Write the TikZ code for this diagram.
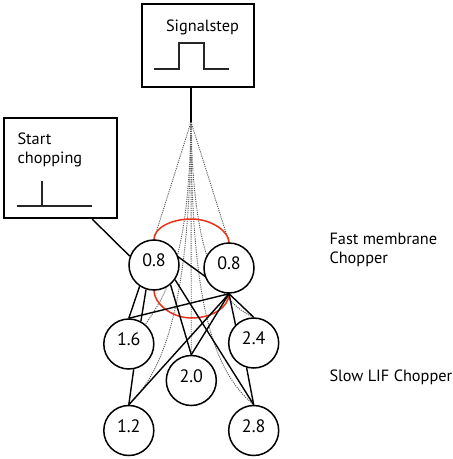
\documentclass[tikz,border=0pt]{standalone}
\usepackage{fontspec}
\setmainfont{PT Sans}
\usetikzlibrary{arrows.meta,calc}
\definecolor{chopred}{RGB}{235,50,25}
\definecolor{dotgray}{RGB}{85,85,85}
\pgfdeclarelayer{paper}
\pgfdeclarelayer{background}
\pgfsetlayers{paper,background,main}
\begin{document}
\begin{tikzpicture}[x=1pt,y=-1pt,
  neuron/.style={circle,draw,line width=1.5pt,fill=white,minimum size=50pt,inner sep=0pt,
    font=\fontsize{18}{20}\selectfont,text height=12.5pt,text depth=9pt},
  box/.style={draw,line width=1.7pt,rectangle,inner sep=0pt,fill=white},
  wire/.style={line width=1.4pt},
  dotline/.style={dotgray,line width=0.9pt,dash pattern=on 1.1pt off 1.1pt},
  lbl/.style={font=\fontsize{16.3}{19}\selectfont,inner sep=0pt},
  pulse/.style={line width=1.7pt,color=black!85}]

\begin{pgfonlayer}{paper}
\useasboundingbox[fill=white] (0,0) rectangle (453,459);
\end{pgfonlayer}

% boxes
\node[box,minimum width=112pt,minimum height=83pt] (sig) at (198,45.5) {};
\node[lbl,anchor=base] (sigtxt) at (202.5,31.7) {Signalstep};
\draw[pulse] (154,68.7) -- (179,68.7) -- (179,43.3) -- (204.3,43.3) -- (204.3,68.7) -- (228.7,68.7);
\coordinate (src) at (191,122);

\node[box,minimum width=112.4pt,minimum height=100pt] (start) at (60.5,168.3) {};
\node[lbl,anchor=base west] (st1) at (17.3,144.3) {Start};
\node[lbl,anchor=base west] (st2) at (17.3,163.3) {chopping};
\draw[pulse] (17.3,206) -- (91.7,206);
\draw[pulse] (41.7,181) -- (41.7,206);

% neurons
\node[neuron] (L) at (154,265) {0.8};
\node[neuron] (R) at (229,268) {0.8};
\node[neuron] (N16) at (128.8,344) {1.6};
\node[neuron] (N24) at (253.7,343) {2.4};
\node[neuron] (N20) at (191.3,380.5) {2.0};
\node[neuron] (N12) at (128.8,430.5) {1.2};
\node[neuron] (N28) at (253.7,430.5) {2.8};

% labels
\node[lbl,anchor=base west] (f1) at (329.3,244.3) {Fast membrane};
\node[lbl,anchor=base west] (f2) at (329.3,263.3) {Chopper};
\node[lbl,anchor=base west] (s1) at (329.3,381) {Slow LIF Chopper};

\begin{pgfonlayer}{background}
  % signal fan-out
  \draw[wire] (sig.south -| src) -- (src);
  \draw[dotline] (src) -- (L.north);
  \draw[dotline] (src) -- (R.north);
  \draw[dotline] (src) -- (N20.north);
  \draw[dotline] (src) .. controls (189,250) and (170,290) .. (N16.50);
  \draw[dotline] (src) .. controls (190,300) and (165,370) .. (N12.north);
  \draw[dotline] (src) .. controls (191,300) and (212,370) .. (N28.north);
  \draw[dotline] (src) .. controls (193,250) and (215,300) .. (N24.north);
  % red loop
  \draw[chopred,line width=1.5pt] (L.north) .. controls (154,228.2) and (170.8,219) .. (191.5,219)
     .. controls (212.2,219) and (229,232) .. (R.north) -- (R.south)
     .. controls (229,307) and (212.2,318) .. (191.5,318)
     .. controls (170.8,318) and (154,302.8) .. (L.south) -- cycle;
  % wires
  \draw[wire] (start.-58) -- (L.160);
  \draw[wire,-{Latex[length=5pt,width=4.5pt]}] (R.south) -- (L.north);
  \draw[wire] (L.236) -- (N16.north);
  \draw[wire] (L.252) -- (N16.62);
  \draw[wire] (L.-50) -- (N20.north);
  \draw[wire] (L.-35) -- (N28.north);
  \draw[wire] (R.south) -- (N16.north);
  \draw[wire] (R.south) -- (N20.north);
  \draw[wire] (R.south) -- (N12.north);
  \draw[wire] (R.south) -- (N24.135);
  \draw[wire] (R.south) -- (N24.north);
  \draw[wire] (N16.281) -- (N12.north);
  \draw[wire] (N24.254) -- (N28.north);
\end{pgfonlayer}
\end{tikzpicture}
\end{document}
